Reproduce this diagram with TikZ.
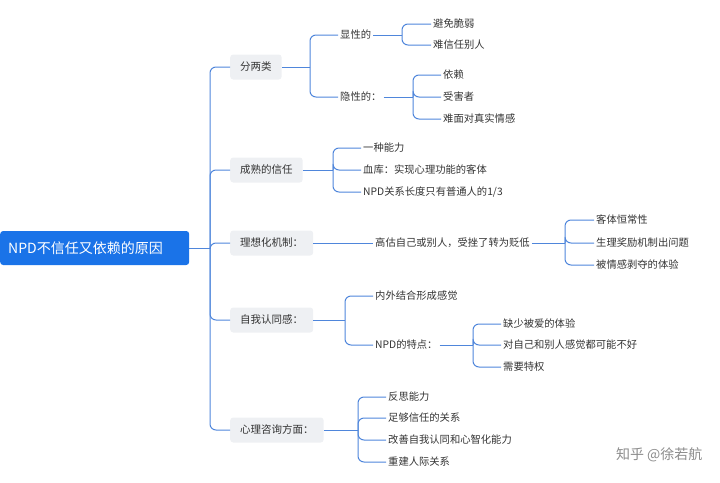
\documentclass[tikz,border=0pt]{standalone}
\usepackage{fontspec}
\setmainfont{Noto Sans CJK SC}
\usepackage{xcolor}
\usetikzlibrary{positioning}
\definecolor{linkblue}{HTML}{4F86DB}
\definecolor{rootblue}{HTML}{1A73E8}
\definecolor{boxgray}{HTML}{EEF0F3}
\definecolor{txtgray}{HTML}{333333}

\begin{document}
\begin{tikzpicture}[
    x=1pt, y=-1pt,
    root/.style={rectangle, rounded corners=3pt, fill=rootblue, text=white, font=\fontsize{14}{16}\selectfont, minimum height=34pt, inner xsep=8pt, anchor=west},
    branch/.style={rectangle, rounded corners=3pt, fill=boxgray, text=txtgray, font=\fontsize{10.5}{12}\selectfont, minimum height=25pt, inner xsep=10pt, anchor=west},
    leaf/.style={text=txtgray, font=\fontsize{10.3}{12}\selectfont, inner xsep=2pt, anchor=west},
    link/.style={draw=linkblue, line width=1pt, rounded corners=6pt}
]
\useasboundingbox (0,0) rectangle (720,482);

% Root
\node[root, minimum width=189pt, text width=173pt] (npd) at (0,248) {NPD不信任又依赖的原因};

% Branches
\node[branch] (two) at (230,67) {分两类};
\node[branch] (mature) at (230,170) {成熟的信任};
\node[branch] (ideal) at (230,243) {理想化机制：};
\node[branch] (self) at (230,320) {自我认同感：};
\node[branch] (consult) at (230,430) {心理咨询方面：};

% Leaves
\node[leaf] (overt) at (338,35) {显性的};
\node[leaf] (covert) at (338,97) {隐性的：};
\node[leaf] (avoid) at (431,24) {避免脆弱};
\node[leaf] (hard) at (431,45) {难信任别人};
\node[leaf] (depend) at (441,75) {依赖};
\node[leaf] (victim) at (441,97) {受害者};
\node[leaf] (face) at (441,119) {难面对真实情感};
\node[leaf] (ability) at (361,148) {一种能力};
\node[leaf] (blood) at (361,170) {血库：实现心理功能的客体};
\node[leaf] (length) at (361,192) {NPD关系长度只有普通人的1/3};
\node[leaf] (over) at (373,243) {高估自己或别人，受挫了转为贬低};
\node[leaf] (const) at (594,220) {客体恒常性};
\node[leaf] (reward) at (594,243) {生理奖励机制出问题};
\node[leaf] (depriv) at (594,265) {被情感剥夺的体验};
\node[leaf] (inout) at (373,296) {内外结合形成感觉};
\node[leaf] (trait) at (373,345) {NPD的特点：};
\node[leaf] (love) at (501,324) {缺少被爱的体验};
\node[leaf] (bad) at (501,345) {对自己和别人感觉都可能不好};
\node[leaf] (priv) at (501,367) {需要特权};
\node[leaf] (reflect) at (386,397) {反思能力};
\node[leaf] (enough) at (386,418) {足够信任的关系};
\node[leaf] (improve) at (386,440) {改善自我认同和心智化能力};
\node[leaf] (rebuild) at (386,462) {重建人际关系};

% Watermark
\node[text=black!45, font=\fontsize{14}{16}\selectfont, anchor=east] (mark) at (706,455) {知乎 @徐若航};

% Connectors
\draw[link] (npd.east) -- (210,248);
\foreach \b in {two,mature,ideal,self,consult}
    \draw[link] (210,248) |- (\b.west);

\draw[link] (two.east) -- (310,67);
\foreach \c in {overt,covert} \draw[link] (310,67) |- (\c.west);
\draw[link] (overt.east) -- (402,35);
\foreach \c in {avoid,hard} \draw[link] (402,35) |- (\c.west);
\draw[link] (covert.east) -- (413,97);
\foreach \c in {depend,victim,face} \draw[link] (413,97) |- (\c.west);

\draw[link] (mature.east) -- (333,170);
\foreach \c in {ability,blood,length} \draw[link] (333,170) |- (\c.west);

\draw[link] (ideal.east) -- (over.west);
\draw[link] (over.east) -- (565,243);
\foreach \c in {const,reward,depriv} \draw[link] (565,243) |- (\c.west);

\draw[link] (self.east) -- (345,320);
\foreach \c in {inout,trait} \draw[link] (345,320) |- (\c.west);
\draw[link] (trait.east) -- (473,345);
\foreach \c in {love,bad,priv} \draw[link] (473,345) |- (\c.west);

\draw[link] (consult.east) -- (358,430);
\foreach \c in {reflect,enough,improve,rebuild} \draw[link] (358,430) |- (\c.west);

\end{tikzpicture}
\end{document}
